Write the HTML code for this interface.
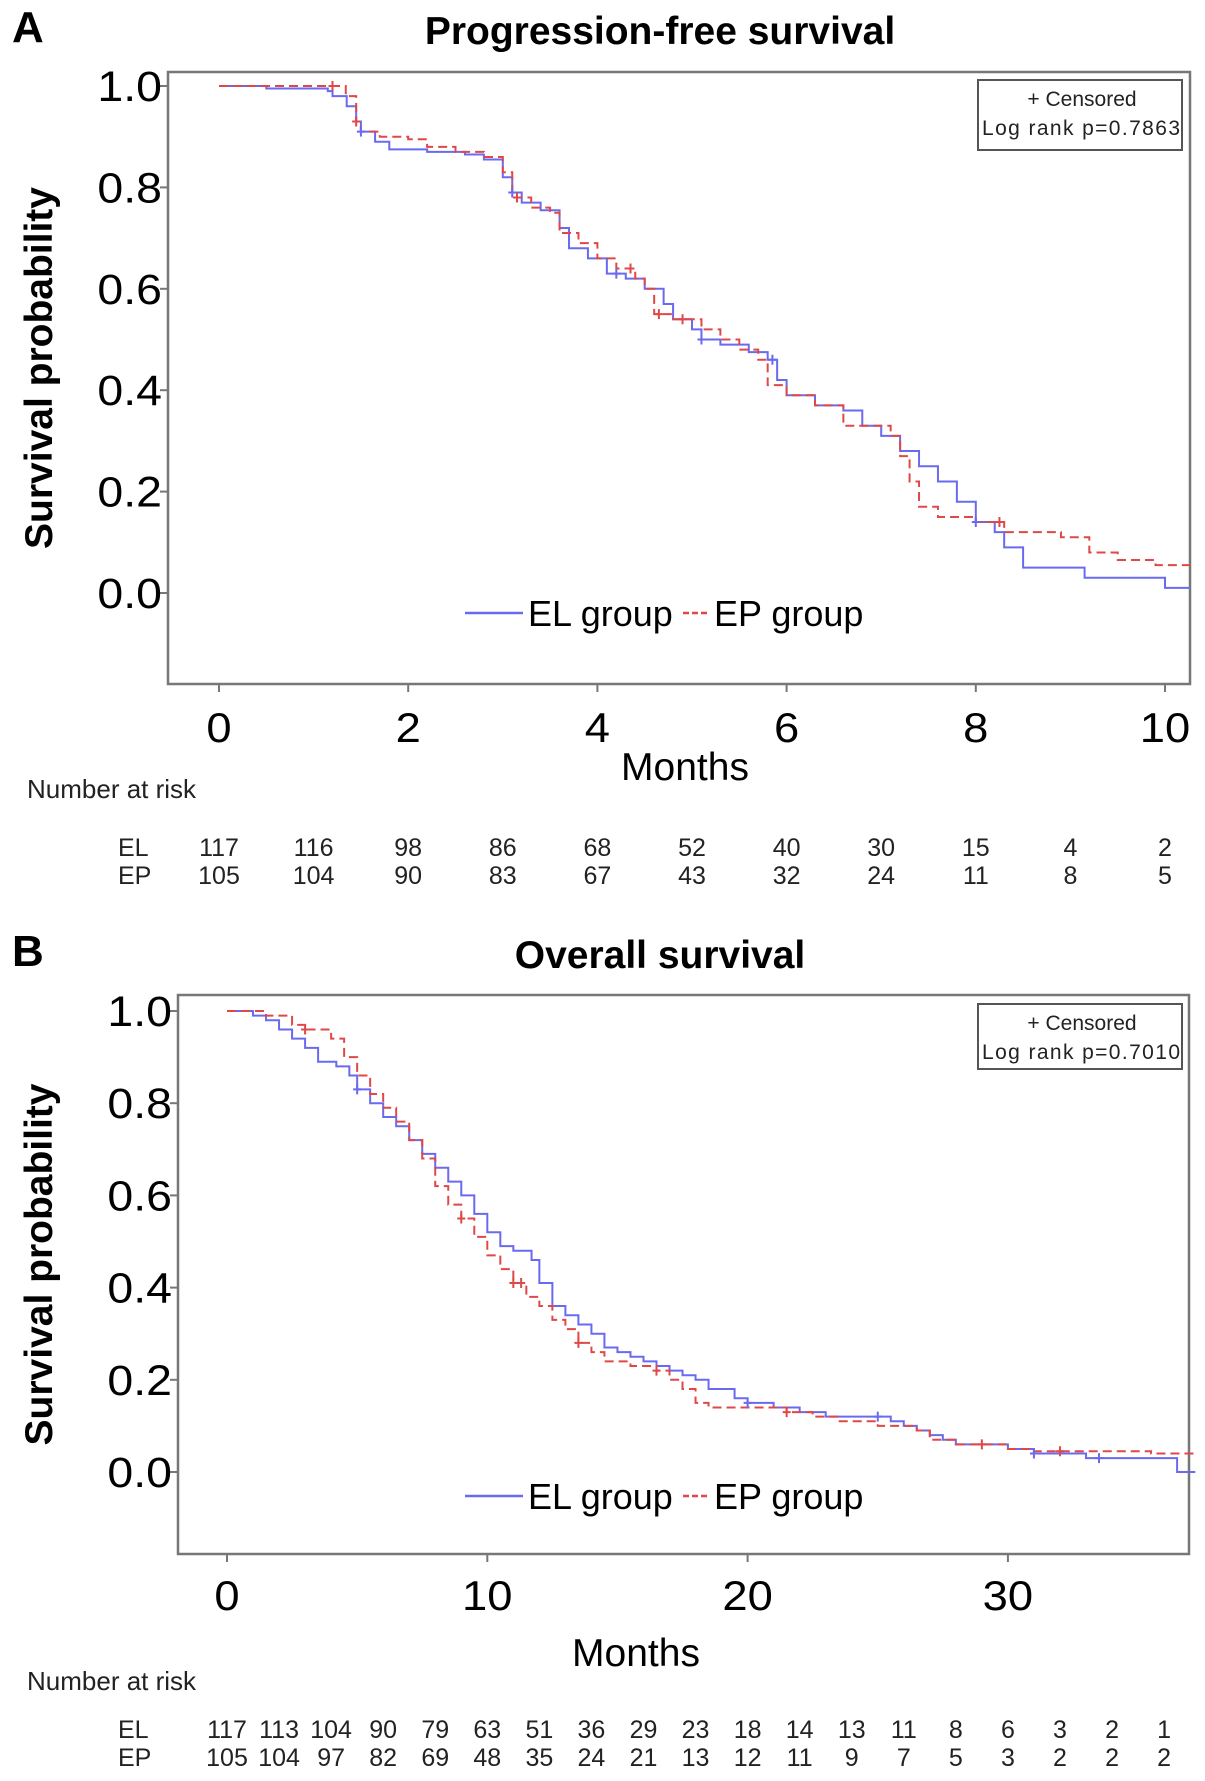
<!DOCTYPE html>
<html><head><meta charset="utf-8">
<style>
html,body{margin:0;padding:0;background:#fff;}
svg{display:block;font-family:"Liberation Sans",Arial,sans-serif;}
</style></head>
<body>
<svg id="fig" width="1205" height="1781" viewBox="0 0 1205 1781" xmlns="http://www.w3.org/2000/svg"></svg>
<script>
// ---- Panel A data (PFS) ----
const pfsTicks = [0,2,4,6,8,10];
const pfsYTicks = ["1.0","0.8","0.6","0.4","0.2","0.0"];
const pfsElT = [0,0.5,1.15,1.2,1.35,1.45,1.5,1.65,1.8,2.2,2.6,2.8,3.0,3.1,3.2,3.4,3.6,3.7,3.9,4.1,4.3,4.5,4.7,4.8,5.0,5.1,5.3,5.6,5.8,5.9,6.0,6.3,6.6,6.8,7.0,7.2,7.4,7.6,7.8,8.0,8.2,8.3,8.5,9.15,10.0];
const pfsElS = [1.0,0.995,0.99,0.98,0.96,0.93,0.91,0.89,0.875,0.87,0.865,0.855,0.82,0.79,0.77,0.755,0.72,0.68,0.66,0.63,0.62,0.6,0.57,0.54,0.52,0.5,0.49,0.475,0.46,0.42,0.39,0.37,0.36,0.33,0.31,0.28,0.25,0.22,0.18,0.14,0.12,0.09,0.05,0.03,0.01];
const pfsEpT = [0,1.34,1.45,1.5,1.7,2.0,2.2,2.5,2.8,3.0,3.1,3.3,3.5,3.6,3.8,4.0,4.2,4.4,4.5,4.6,4.8,5.1,5.3,5.5,5.7,5.8,6.0,6.3,6.6,7.1,7.2,7.3,7.4,7.6,8.0,8.3,8.9,9.2,9.5,9.9];
const pfsEpS = [1.0,0.98,0.93,0.91,0.9,0.895,0.88,0.87,0.86,0.83,0.78,0.76,0.75,0.71,0.69,0.66,0.64,0.62,0.6,0.55,0.54,0.52,0.5,0.48,0.46,0.41,0.39,0.37,0.33,0.31,0.27,0.22,0.17,0.15,0.14,0.12,0.11,0.08,0.065,0.055];
const pfsRiskEl = ["117","116","98","86","68","52","40","30","15","4","2"];
const pfsRiskEp = ["105","104","90","83","67","43","32","24","11","8","5"];
const pfsRiskT = [0,1,2,3,4,5,6,7,8,9,10];
const pfsCensEl = [1.5,3.1,4.2,5.1,5.85,8.0];
const pfsCensEp = [1.2,1.45,3.15,4.35,4.65,4.9,8.25];

// ---- Panel B data (OS) ----
const osTicks = [0,10,20,30];
const osYTicks = ["1.0","0.8","0.6","0.4","0.2","0.0"];
const osElT = [0,1.0,1.5,2.0,2.5,3.0,3.5,4.2,4.7,5.0,5.5,6.0,6.5,7.0,7.5,8.0,8.5,9.0,9.5,10.0,10.5,11.0,11.7,12.0,12.5,13.0,13.5,14.0,14.5,15.0,15.5,16.0,16.5,17.0,17.5,18.0,18.5,19.5,20.0,21.0,22.0,23.0,25.5,26.0,26.5,27.0,27.5,28.0,30.0,31.0,33.0,36.5];
const osElS = [1.0,0.99,0.98,0.96,0.94,0.92,0.89,0.88,0.86,0.83,0.8,0.77,0.75,0.72,0.69,0.66,0.63,0.6,0.56,0.52,0.49,0.48,0.46,0.41,0.36,0.34,0.32,0.3,0.27,0.26,0.25,0.24,0.23,0.22,0.21,0.2,0.18,0.16,0.15,0.14,0.13,0.12,0.11,0.1,0.09,0.08,0.07,0.06,0.05,0.04,0.03,0.0];
const osEpT = [0,1.5,2.5,3.0,4.0,4.5,5.0,5.5,6.0,6.5,7.0,7.5,8.0,8.5,9.0,9.5,10.0,10.5,11.0,11.5,12.0,12.5,13.0,13.5,14.0,14.5,15.5,16.5,17.0,17.5,18.0,18.5,21.5,22.5,23.5,25.0,26.5,27.0,28.0,30.0,31.0,35.5];
const osEpS = [1.0,0.99,0.97,0.96,0.94,0.9,0.86,0.82,0.79,0.76,0.72,0.68,0.62,0.58,0.55,0.51,0.47,0.44,0.41,0.38,0.36,0.33,0.31,0.28,0.26,0.24,0.23,0.22,0.2,0.18,0.15,0.14,0.13,0.12,0.11,0.1,0.09,0.07,0.06,0.05,0.045,0.04];
const osRiskEl = ["117","113","104","90","79","63","51","36","29","23","18","14","13","11","8","6","3","2","1"];
const osRiskEp = ["105","104","97","82","69","48","35","24","21","13","12","11","9","7","5","3","2","2","2"];
const osRiskT = [0,2,4,6,8,10,12,14,16,18,20,22,24,26,28,30,32,34,36];
const osCensEl = [5.0,20.0,25.0,31.0,33.5];
const osCensEp = [3.0,9.0,11.0,11.3,13.5,16.5,21.5,29.0,32.0];

const NS = "http://www.w3.org/2000/svg";
const svg = document.getElementById('fig');
const BLUE = "#6a6af0", RED = "#e04848";

function mk(tag, attrs, parent, text){
  const e = document.createElementNS(NS, tag);
  for (const k in attrs) e.setAttribute(k, attrs[k]);
  if (text !== undefined) e.textContent = text;
  (parent || svg).appendChild(e);
  return e;
}

function panel(cfg){
  const g = mk('g', {});
  
  
  const xs = t => cfg.x0 + t * cfg.xper;
  const ys = s => cfg.y0 - s * (cfg.y0 - cfg.y1);

  const letter = mk('text', {x: 12, y: cfg.titleY + 12, 'font-size': 44, 'font-weight': 'bold'}, g, cfg.letter);
  
  
  const title = mk('text', {x: 660, y: cfg.titleY + 14, 'font-size': 39, 'font-weight': 'bold', 'text-anchor': 'middle'}, g, cfg.title);
  
  

  const frame = mk('rect', {x: cfg.left, y: cfg.top, width: cfg.right - cfg.left, height: cfg.bottom - cfg.top, fill: 'none', stroke: '#777', 'stroke-width': 2.5}, g);
  
  

  cfg.yTicks.forEach((lab, i) => {
    const v = 1 - i * 0.2;
    const y = ys(v);
    const tk = mk('line', {x1: cfg.left - 8, x2: cfg.left, y1: y, y2: y, stroke: '#777', 'stroke-width': 2}, g);
    
    
    const t = mk('text', {x: cfg.left - 6, y: y + 15, 'font-size': 43, 'text-anchor': 'end', transform: `translate(${cfg.left - 6},0) scale(1.08,1) translate(${-(cfg.left - 6)},0)`}, g, lab);
    
    
  });
  const yt = mk('text', {x: 0, y: 0, 'font-size': 39, 'font-weight': 'bold', 'text-anchor': 'middle', transform: `translate(${cfg.ytitleX},${(cfg.top + cfg.bottom) / 2 - 10}) rotate(-90)`}, g, 'Survival probability');
  
  

  cfg.xTicks.forEach(v => {
    const x = xs(v);
    const tk = mk('line', {x1: x, x2: x, y1: cfg.bottom, y2: cfg.bottom + 8, stroke: '#777', 'stroke-width': 2}, g);
    
    
    const t = mk('text', {x: x, y: cfg.xlabY + 2, 'font-size': 42, 'text-anchor': 'middle', transform: `translate(${x},0) scale(1.08,1) translate(${-x},0)`}, g, String(v));
    
    
  });
  const xt = mk('text', {x: cfg.monthsX, y: cfg.monthsY, 'font-size': 39, 'text-anchor': 'middle'}, g, 'Months');
  
  

  function stepPath(T, S, tEnd){
    let d = `M${xs(T[0])},${ys(S[0])}`;
    for (let i = 1; i < T.length; i++){
      d += ` H${xs(T[i])} V${ys(S[i])}`;
    }
    d += ` H${xs(tEnd)}`;
    return d;
  }
  const pe = mk('path', {d: stepPath(cfg.elT, cfg.elS, cfg.tEnd), fill: 'none', stroke: BLUE, 'stroke-width': 2}, g);
  
  
  const pp = mk('path', {d: stepPath(cfg.epT, cfg.epS, cfg.tEnd), fill: 'none', stroke: RED, 'stroke-width': 2, 'stroke-dasharray': '9,5'}, g);
  
  

  function survAt(T, S, t){ let s = S[0]; for (let i = 0; i < T.length; i++) if (T[i] <= t) s = S[i]; return s; }
  function cens(list, T, S, col){
    list.forEach(t => {
      const x = xs(t), y = ys(survAt(T, S, t));
      const c = mk('path', {d: `M${x - 4},${y} H${x + 4} M${x},${y - 5} V${y + 5}`, stroke: col, 'stroke-width': 2}, g);
      
      
    });
  }
  cens(cfg.censEl, cfg.elT, cfg.elS, BLUE);
  cens(cfg.censEp, cfg.epT, cfg.epS, RED);

  const lb = mk('g', {}, g);
  
  
  mk('rect', {x: 978, y: cfg.boxY, width: 204, height: cfg.boxH, fill: '#fff', stroke: '#555', 'stroke-width': 2}, lb);
  mk('text', {x: 1082, y: cfg.boxY + 26, 'font-size': 21, 'text-anchor': 'middle', fill: '#222'}, lb, '+ Censored');
  mk('text', {x: 1081, y: cfg.boxY + 55, 'font-size': 21, 'text-anchor': 'middle', fill: '#222', textLength: 198}, lb, cfg.logrank);

  const lg = mk('g', {}, g);
  
  
  const l1 = mk('line', {x1: 465, x2: 523, y1: cfg.legY, y2: cfg.legY, stroke: BLUE, 'stroke-width': 2.5}, lg);
  
  
  mk('text', {x: 528, y: cfg.legY + 13, 'font-size': 36}, lg, 'EL group');
  const l2 = mk('line', {x1: 683, x2: 710, y1: cfg.legY, y2: cfg.legY, stroke: RED, 'stroke-width': 2.5, 'stroke-dasharray': '6,3'}, lg);
  
  
  mk('text', {x: 714, y: cfg.legY + 13, 'font-size': 36}, lg, 'EP group');

  const nr = mk('text', {x: 27, y: cfg.narY + 9, 'font-size': 26, fill: '#222'}, g, 'Number at risk');
  
  
  const r1 = mk('text', {x: 118, y: cfg.riskElY + 9, 'font-size': 25, fill: '#222'}, g, 'EL');
  
  
  const r2 = mk('text', {x: 118, y: cfg.riskEpY + 9, 'font-size': 25, fill: '#222'}, g, 'EP');
  
  
  cfg.riskT.forEach((t, i) => {
    const a = mk('text', {x: xs(t), y: cfg.riskElY + 9, 'font-size': 25, 'text-anchor': 'middle', fill: '#222'}, g, cfg.riskEl[i]);
    
    
    const b = mk('text', {x: xs(t), y: cfg.riskEpY + 9, 'font-size': 25, 'text-anchor': 'middle', fill: '#222'}, g, cfg.riskEp[i]);
    
    
  });
}

panel({name: 'panel-a-pfs', letter: 'A', title: 'Progression-free survival', titleY: 30,
  left: 168, right: 1190, top: 72, bottom: 684, x0: 219, xper: 94.6, y0: 593, y1: 86, tEnd: 10.27,
  yTicks: pfsYTicks, xTicks: pfsTicks, ytitleX: 52, xlabY: 740, monthsX: 685, monthsY: 780,
  elT: pfsElT, elS: pfsElS, epT: pfsEpT, epS: pfsEpS, censEl: pfsCensEl, censEp: pfsCensEp,
  boxY: 80, boxH: 70, logrank: 'Log rank p=0.7863', legY: 613,
  narY: 789, riskElY: 847, riskEpY: 875, riskT: pfsRiskT, riskEl: pfsRiskEl, riskEp: pfsRiskEp});

panel({name: 'panel-b-os', letter: 'B', title: 'Overall survival', titleY: 954,
  left: 178, right: 1189, top: 995, bottom: 1554, x0: 227, xper: 26.03, y0: 1472, y1: 1011, tEnd: 37.2,
  yTicks: osYTicks, xTicks: osTicks, ytitleX: 52, xlabY: 1608, monthsX: 636, monthsY: 1666,
  elT: osElT, elS: osElS, epT: osEpT, epS: osEpS, censEl: osCensEl, censEp: osCensEp,
  boxY: 1004, boxH: 65, logrank: 'Log rank p=0.7010', legY: 1496,
  narY: 1681, riskElY: 1729, riskEpY: 1757, riskT: osRiskT, riskEl: osRiskEl, riskEp: osRiskEp});
</script>
</body></html>
